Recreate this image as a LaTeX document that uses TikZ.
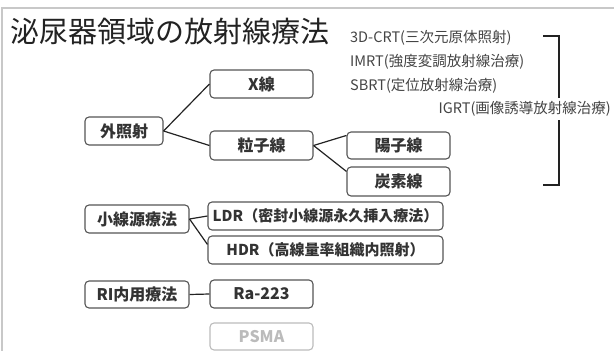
\documentclass[tikz,border=0pt]{standalone}
\usepackage{fontspec}
\setmainfont{Noto Sans CJK JP}
\definecolor{boxc}{HTML}{555555}
\definecolor{txt}{HTML}{333333}
\definecolor{linec}{HTML}{222222}
\definecolor{framec}{HTML}{C8C8C8}
\definecolor{fadec}{HTML}{BBBBBB}
\definecolor{listc}{HTML}{444444}
\begin{document}
\begin{tikzpicture}[x=1pt,y=-1pt,
  box/.style={draw=boxc, line width=1.1pt, rounded corners=4pt, text=txt,
    font=\fontsize{16}{18}\selectfont\bfseries, inner sep=0pt,
    minimum width=103pt, minimum height=28pt},
  widebox/.style={box, minimum width=235pt, font=\fontsize{15}{17}\selectfont\bfseries},
  fadebox/.style={box, draw=fadec, text=fadec},
  conn/.style={draw=linec, line width=1.2pt},
  listtext/.style={text=listc, font=\fontsize{14.5}{16}\selectfont, inner sep=0pt},
  brack/.style={draw=linec, line width=1.6pt}
]
\useasboundingbox (0,0) rectangle (614,351);
% frame
\draw[framec, line width=1.5pt] (2,351) -- (2,8) -- (614,8);

% title
\node[anchor=west, inner sep=0pt, text=linec, font=\fontsize{29}{31}\selectfont] (title) at (10,32) {泌尿器領域の放射線療法};

% list on the right
\node[listtext, anchor=west] (crt) at (350,38) {3D-CRT(三次元原体照射)};
\node[listtext, anchor=west] (imrt) at (350,62) {IMRT(強度変調放射線治療)};
\node[listtext, anchor=west] (sbrt) at (350,86) {SBRT(定位放射線治療)};
\coordinate (b1) at (543,36);
\coordinate (b2) at (559,36);
\coordinate (b3) at (559,185);
\coordinate (b4) at (543,185);
\draw[brack] (b1) -- (b2) -- (b3) -- (b4);
\node[listtext, anchor=east, fill=white, inner ysep=3pt] (igrt) at (611,109) {IGRT(画像誘導放射線治療)};

% boxes
\node[box] (xray) at (261.5,84) {X線};
\node[box, minimum width=78pt] (ext) at (124,131) {外照射};
\node[box, minimum height=29pt] (part) at (261.5,145.5) {粒子線};
\node[box, minimum height=27pt] (proton) at (398.5,145.5) {陽子線};
\node[box, minimum height=29pt] (carbon) at (398.5,181.5) {炭素線};
\node[box, minimum width=104pt] (brachy) at (137,219) {小線源療法};
\node[widebox] (ldr) at (325.5,216) {LDR（密封小線源永久挿入療法）};
\node[widebox] (hdr) at (325.5,250) {HDR（高線量率組織内照射）};
\node[box, minimum width=104pt, minimum height=27pt] (ri) at (137,294.5) {RI内用療法};
\node[box] (ra) at (261.5,294) {Ra-223};
\node[fadebox, minimum height=27pt] (psma) at (261.5,336.5) {PSMA};

% connectors
\draw[conn] (ext.east) -- (xray.west);
\draw[conn] (ext.east) -- (part.west);
\draw[conn] (part.east) -- ([yshift=-4pt]proton.north west);
\draw[conn] (part.east) -- ([yshift=-5pt]carbon.north west);
\draw[conn] (brachy.east) -- (ldr.west);
\draw[conn] (brachy.east) -- ([yshift=-9pt]hdr.north west);
\draw[conn] (ri.east) -- (ra.west);
\end{tikzpicture}
\end{document}
